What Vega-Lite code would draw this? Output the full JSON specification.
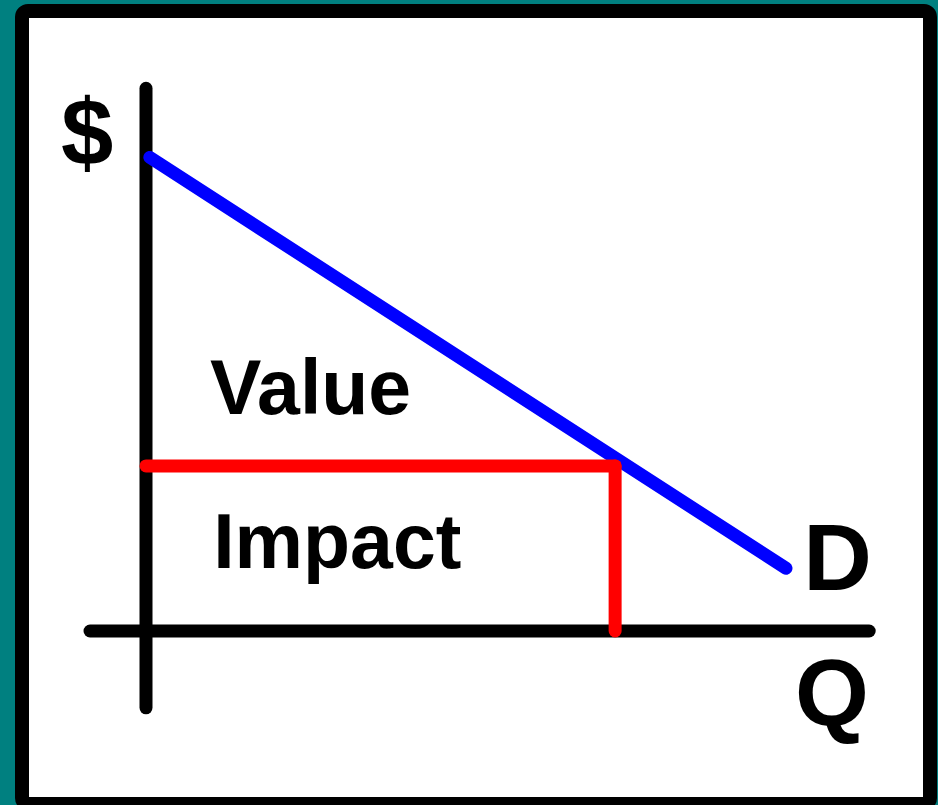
{
  "$schema": "https://vega.github.io/schema/vega-lite/v6.json",
  "width": 938,
  "height": 805,
  "autosize": {"type": "fit", "contains": "padding"},
  "padding": {"left": 22, "top": 11, "right": 8, "bottom": 1},
  "background": "#008080",
  "config": {
    "view": {"stroke": "#000000", "strokeWidth": 14, "fill": "#ffffff", "cornerRadius": 6}
  },
  "datasets": {
    "segments": [
      {"name": "axisP", "q1": 0, "p1": 8.48, "q2": 0, "p2": -1.2},
      {"name": "axisQ", "q1": -0.875, "p1": 0, "q2": 11.3, "p2": 0},
      {"name": "demand", "q1": 0.06, "p1": 7.4, "q2": 10.0, "p2": 0.98},
      {"name": "impactTop", "q1": 0, "p1": 2.58, "q2": 7.33, "p2": 2.58},
      {"name": "impactSide", "q1": 7.33, "p1": 2.58, "q2": 7.33, "p2": 0}
    ],
    "labels": [
      {"text": "$", "q": -1.33, "p": 7.28, "kind": "dollar"},
      {"text": "Value", "q": 1.0, "p": 3.39, "kind": "word"},
      {"text": "Impact", "q": 1.05, "p": 0.984, "kind": "word"},
      {"text": "D", "q": 10.27, "p": 0.64, "kind": "letter"},
      {"text": "Q", "q": 10.14, "p": -1.47, "kind": "letter"}
    ]
  },
  "layer": [
    {
      "data": {"name": "segments"},
      "mark": {"type": "rule", "strokeWidth": 13, "strokeCap": "round"},
      "encoding": {
        "x": {"field": "q1", "type": "quantitative", "scale": {"domain": [-1.9375, 12.25], "nice": false, "zero": false}, "axis": null},
        "y": {"field": "p1", "type": "quantitative", "scale": {"domain": [-2.703125, 9.6875], "nice": false, "zero": false}, "axis": null},
        "x2": {"field": "q2"},
        "y2": {"field": "p2"},
        "color": {
          "field": "name",
          "type": "nominal",
          "scale": {
            "domain": ["axisP", "axisQ", "demand", "impactTop", "impactSide"],
            "range": ["#000000", "#000000", "#0000ff", "#ff0000", "#ff0000"]
          },
          "legend": null
        }
      }
    },
    {
      "data": {"name": "labels"},
      "transform": [{"filter": "datum.kind == 'dollar'"}],
      "mark": {"type": "text", "font": "Liberation Sans", "fontWeight": "bold", "baseline": "alphabetic", "align": "left", "color": "#000000", "fontSize": 94},
      "encoding": {
        "x": {"field": "q", "type": "quantitative"},
        "y": {"field": "p", "type": "quantitative"},
        "text": {"field": "text"}
      }
    },
    {
      "data": {"name": "labels"},
      "transform": [{"filter": "datum.kind == 'word'"}],
      "mark": {"type": "text", "font": "Liberation Sans", "fontWeight": "bold", "baseline": "alphabetic", "align": "left", "color": "#000000", "fontSize": 77},
      "encoding": {
        "x": {"field": "q", "type": "quantitative"},
        "y": {"field": "p", "type": "quantitative"},
        "text": {"field": "text"}
      }
    },
    {
      "data": {"name": "labels"},
      "transform": [{"filter": "datum.kind == 'letter'"}],
      "mark": {"type": "text", "font": "Liberation Sans", "fontWeight": "bold", "baseline": "alphabetic", "align": "left", "color": "#000000", "fontSize": 95},
      "encoding": {
        "x": {"field": "q", "type": "quantitative"},
        "y": {"field": "p", "type": "quantitative"},
        "text": {"field": "text"}
      }
    }
  ]
}
